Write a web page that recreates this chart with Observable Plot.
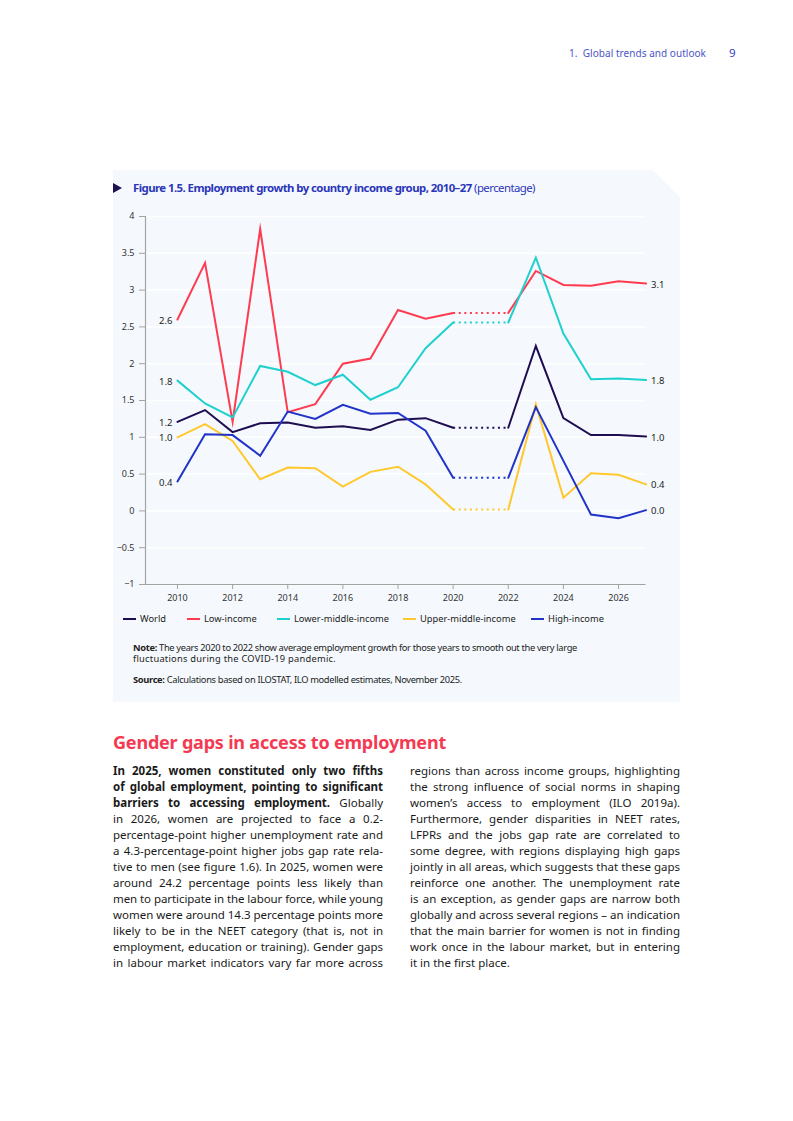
<!DOCTYPE html>
<html>
<head>
<meta charset="utf-8">
<script src="https://cdn.jsdelivr.net/npm/d3@7"></script>
<script src="https://cdn.jsdelivr.net/npm/@observablehq/plot@0.6"></script>
<style>
  html, body { margin: 0; padding: 0; }
  body { width: 793px; height: 1121px; position: relative; background: #fff; font-family: "Noto Sans", sans-serif; color: #1a1a1a; overflow: hidden; }
  .abs { position: absolute; white-space: nowrap; }
  .fit { display: inline-block; white-space: nowrap; }
  #panel { position: absolute; left: 113px; top: 170px; width: 567px; height: 532px; background: #f5f9fd;
           clip-path: polygon(0 0, 540px 0, 567px 27px, 567px 100%, 0 100%); }
  #tri { position: absolute; left: 113px; top: 183px; width: 0; height: 0; border-left: 9px solid #1b1153; border-top: 5px solid transparent; border-bottom: 5px solid transparent; }
  #title { left: 133px; top: 179px; font-size: 11.4px; line-height: 18px; color: #2b36b8; }
  #title b { font-weight: 700; }
  #chart { position: absolute; left: 113px; top: 200px; }
  .leg { position: absolute; top: 613px; height: 12px; font-size: 9.3px; line-height: 12px; color: #222; white-space: nowrap; }
  .leg i { display: inline-block; width: 13px; height: 2px; vertical-align: middle; margin-right: 4px; position: relative; top: -1px; }
  .note { left: 133px; font-size: 9.3px; line-height: 11px; color: #222; }
  #head { left: 113px; top: 729px; font-size: 18px; line-height: 26px; font-weight: 700; color: #f43a52; }
  .col { position: absolute; top: 763px; width: 270px; font-size: 11.5px; line-height: 16px; color: #1a1a1a; }
  .col div { height: 16px; white-space: nowrap; }
</style>
</head>
<body>
<div class="abs" style="left:569px; top:45px; font-size:10px; line-height:16px; color:#4b55c8;"><span class="fit" data-w="137">1.&nbsp; Global trends and outlook</span></div>
<div class="abs" style="left:729px; top:45px; font-size:11.5px; line-height:16px; color:#3440c0;">9</div>

<div id="panel"></div>
<div id="tri"></div>
<div id="title" class="abs"><span class="fit" data-w="402"><b>Figure 1.5. Employment growth by country income group, 2010–27</b> (percentage)</span></div>
<div id="chart"></div>
<div id="legend"></div>

<div class="abs note" style="top:642px;"><span class="fit" data-w="444"><b>Note:</b> The years 2020 to 2022 show average employment growth for those years to smooth out the very large</span></div>
<div class="abs note" style="top:653px;"><span class="fit" data-w="203">fluctuations during the COVID-19 pandemic.</span></div>
<div class="abs note" style="top:674px;"><span class="fit" data-w="329"><b>Source:</b> Calculations based on ILOSTAT, ILO modelled estimates, November 2025.</span></div>

<div id="head" class="abs"><span class="fit" data-w="333">Gender gaps in access to employment</span></div>
<div class="col" id="col1" style="left:113px;"></div>
<div class="col" id="col2" style="left:410px;"></div>

<script>
// ---------- Data ----------
const years = [2010, 2011, 2012, 2013, 2014, 2015, 2016, 2017, 2018, 2019, 2020, 2021, 2022, 2023, 2024, 2025, 2026, 2027];
const seriesNames = ["World", "Low-income", "Lower-middle-income", "Upper-middle-income", "High-income"];
const seriesColors = ["#1f0d52", "#ff3b50", "#1fd0cf", "#ffc82e", "#2234c8"];
const world       = [1.21, 1.37, 1.07, 1.19, 1.20, 1.13, 1.15, 1.10, 1.24, 1.26, 1.13, null, 1.13, 2.24, 1.26, 1.03, 1.03, 1.01];
const lowIncome   = [2.60, 3.37, 1.21, 3.83, 1.34, 1.45, 2.00, 2.07, 2.73, 2.61, 2.69, null, 2.69, 3.26, 3.07, 3.06, 3.12, 3.09];
const lowerMiddle = [1.77, 1.46, 1.27, 1.97, 1.89, 1.71, 1.85, 1.51, 1.68, 2.21, 2.56, null, 2.56, 3.44, 2.41, 1.79, 1.80, 1.78];
const upperMiddle = [1.00, 1.18, 0.95, 0.43, 0.59, 0.58, 0.33, 0.53, 0.60, 0.36, 0.02, null, 0.02, 1.45, 0.18, 0.51, 0.49, 0.36];
const highIncome  = [0.40, 1.04, 1.03, 0.75, 1.35, 1.25, 1.44, 1.32, 1.33, 1.09, 0.45, null, 0.45, 1.41, 0.68, -0.05, -0.10, 0.01];
const seriesValues = [world, lowIncome, lowerMiddle, upperMiddle, highIncome];
const covidYears = [2020, 2022];
const xTicks = [2010, 2012, 2014, 2016, 2018, 2020, 2022, 2024, 2026];
const yTicks = [-1, -0.5, 0, 0.5, 1, 1.5, 2, 2.5, 3, 3.5, 4];

// layout constants
const legendX = [123, 187, 277, 403, 531];

const tidy = seriesNames.flatMap((s, i) => years.map((yr, j) => ({series: s, year: yr, value: seriesValues[i][j]})));
const firstYear = years[0], lastYear = years[years.length - 1];
const startPts = tidy.filter(d => d.year === firstYear);
const endPts = tidy.filter(d => d.year === lastYear);
const dotted = tidy.filter(d => covidYears.includes(d.year));
const xMin = 2008.84;

const chart = Plot.plot({
  width: 567,
  height: 410,
  marginLeft: 32,
  marginRight: 34.4,
  marginTop: 16,
  marginBottom: 26,
  style: {background: "transparent", fontFamily: "Noto Sans", fontSize: "9px", color: "#333", overflow: "visible"},
  x: {domain: [xMin, lastYear]},
  y: {domain: [-1, 4]},
  color: {domain: seriesNames, range: seriesColors},
  marks: [
    Plot.gridY(yTicks, {stroke: "#ffffff", strokeOpacity: 1, strokeWidth: 1.5}),
    Plot.ruleX([xMin], {stroke: "#a3a3a3", strokeWidth: 1.2}),
    Plot.ruleY([-1], {stroke: "#a3a3a3", strokeWidth: 1.2}),
    Plot.axisY({ticks: yTicks, tickFormat: d3.format("~g"), tickSize: 6, tickPadding: 5, label: null, stroke: "#a3a3a3", fill: "#333"}),
    Plot.axisX({ticks: xTicks, tickFormat: d => String(d), tickSize: 5, tickPadding: 5, label: null, stroke: "#a3a3a3", fill: "#333"}),
    Plot.line(tidy, {x: "year", y: "value", z: "series", stroke: "series", strokeWidth: 2, strokeLinejoin: "miter", strokeMiterlimit: 10}),
    Plot.line(dotted, {x: "year", y: "value", z: "series", stroke: "series", strokeWidth: 2, strokeDasharray: "2,3.6", strokeLinecap: "butt"}),
    Plot.text(startPts, {x: "year", y: "value", text: d => d3.format(".1f")(d.value), textAnchor: "end", dx: -5, dy: 1, fill: "#222", fontSize: 9.5}),
    Plot.text(endPts, {x: "year", y: "value", text: d => d3.format(".1f")(d.value), textAnchor: "start", dx: 5, dy: 1, fill: "#222", fontSize: 9.5})
  ]
});
document.getElementById("chart").appendChild(chart);

// legend
const legend = document.getElementById("legend");
seriesNames.forEach((s, i) => {
  const el = document.createElement("div");
  el.className = "leg";
  el.style.left = legendX[i] + "px";
  el.innerHTML = `<i style="background:${seriesColors[i]}"></i>${s}`;
  legend.appendChild(el);
});

// body text (line by line, as laid out in the original)
const col1Lines = [
  "<b>In 2025, women constituted only two fifths</b>",
  "<b>of global employment, pointing to significant</b>",
  "<b>barriers to accessing employment.</b> Globally",
  "in 2026, women are projected to face a 0.2-",
  "percentage-point higher unemployment rate and",
  "a 4.3-percentage-point higher jobs gap rate rela-",
  "tive to men (see figure 1.6). In 2025, women were",
  "around 24.2 percentage points less likely than",
  "men to participate in the labour force, while young",
  "women were around 14.3 percentage points more",
  "likely to be in the NEET category (that is, not in",
  "employment, education or training). Gender gaps",
  "in labour market indicators vary far more across"
];
const col2Lines = [
  "regions than across income groups, highlighting",
  "the strong influence of social norms in shaping",
  "women’s access to employment (ILO 2019a).",
  "Furthermore, gender disparities in NEET rates,",
  "LFPRs and the jobs gap rate are correlated to",
  "some degree, with regions displaying high gaps",
  "jointly in all areas, which suggests that these gaps",
  "reinforce one another. The unemployment rate",
  "is an exception, as gender gaps are narrow both",
  "globally and across several regions – an indication",
  "that the main barrier for women is not in finding",
  "work once in the labour market, but in entering",
  "it in the first place."
];
function fillCol(id, lines, lastFree) {
  const col = document.getElementById(id);
  lines.forEach((ln, i) => {
    const d = document.createElement("div");
    const free = lastFree && i === lines.length - 1;
    d.innerHTML = free ? `<span>${ln}</span>` : `<span class="fit" data-w="270" data-just="1">${ln}</span>`;
    col.appendChild(d);
  });
}
fillCol("col1", col1Lines, false);
fillCol("col2", col2Lines, true);

// fit widths
document.querySelectorAll(".fit").forEach(el => {
  const target = +el.dataset.w;
  const w = el.getBoundingClientRect().width;
  const txt = el.textContent;
  const spaces = (txt.match(/ /g) || []).length;
  if (el.dataset.just && w < target && spaces > 0) {
    el.style.wordSpacing = ((target - w) / spaces) + "px";
  } else {
    el.style.letterSpacing = ((target - w) / txt.length) + "px";
  }
});
</script>
</body>
</html>
